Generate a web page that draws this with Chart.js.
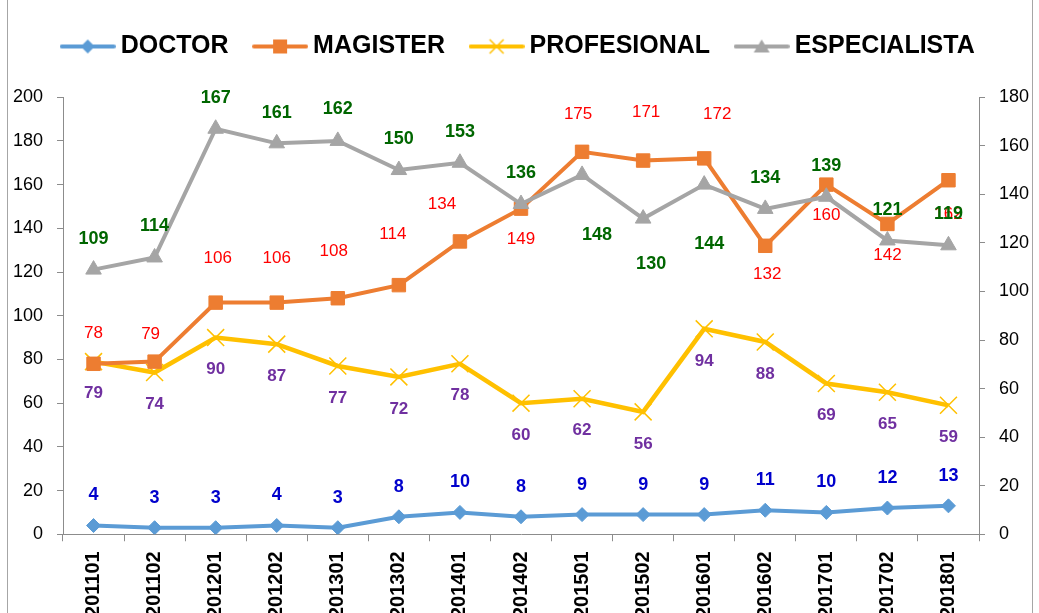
<!DOCTYPE html>
<html lang="es">
<head>
<meta charset="UTF-8">
<title>Docentes por grado</title>
<style>
  html, body { margin: 0; padding: 0; background: #fff; overflow: hidden; }
  #wrap { position: relative; width: 1039px; height: 613px; overflow: hidden; }
  canvas { display: block; }
</style>
</head>
<body>
<div id="wrap"><canvas id="chart" width="1039" height="630"></canvas></div>
<script src="https://cdn.jsdelivr.net/npm/chart.js"></script>
<script>
const periodos = ['201101', '201102', '201201', '201202', '201301', '201302', '201401', '201402',
                  '201501', '201502', '201601', '201602', '201701', '201702', '201801'];
const doctor       = [4, 3, 3, 4, 3, 8, 10, 8, 9, 9, 9, 11, 10, 12, 13];
const magister     = [78, 79, 106, 106, 108, 114, 134, 149, 175, 171, 172, 132, 160, 142, 162];
const profesional  = [79, 74, 90, 87, 77, 72, 78, 60, 62, 56, 94, 88, 69, 65, 59];
const especialista = [109, 114, 167, 161, 162, 150, 153, 136, 148, 130, 144, 134, 139, 121, 119];

const FONT = "'Liberation Sans', Arial, sans-serif";
const axisGray = '#8c8c8c';

// little line + marker picture for each legend entry
function legendIcon(color, marker) {
  const c = document.createElement('canvas');
  c.width = 56; c.height = 24;
  const g = c.getContext('2d');
  g.strokeStyle = color;
  g.fillStyle = color;
  g.lineWidth = 4;
  g.lineCap = 'round';
  g.beginPath(); g.moveTo(2, 12); g.lineTo(54, 12); g.stroke();
  g.beginPath();
  if (marker === 'diamond') {
    g.moveTo(28, 5); g.lineTo(35, 12); g.lineTo(28, 19); g.lineTo(21, 12); g.closePath(); g.fill();
  } else if (marker === 'square') {
    g.fillRect(21, 5, 14, 14);
  } else if (marker === 'x') {
    g.lineWidth = 1.5; g.lineCap = 'butt';
    g.moveTo(21, 5); g.lineTo(35, 19); g.moveTo(35, 5); g.lineTo(21, 19); g.stroke();
  } else if (marker === 'triangle') {
    g.moveTo(28, 5); g.lineTo(36, 18); g.lineTo(20, 18); g.closePath(); g.fill();
  }
  return c;
}

const icons = [
  legendIcon('#5B9BD5', 'diamond'),
  legendIcon('#ED7D31', 'square'),
  legendIcon('#FFC000', 'x'),
  legendIcon('#A5A5A5', 'triangle')
];

// value labels next to the points
const valueLabels = {
  id: 'valueLabels',
  afterDatasetsDraw(chart) {
    const ctx = chart.ctx;
    chart.data.datasets.forEach((ds, i) => {
      const meta = chart.getDatasetMeta(i);
      ctx.save();
      ctx.font = ds.labelFont;
      ctx.fillStyle = ds.labelColor;
      ctx.textAlign = 'center';
      ctx.textBaseline = 'middle';
      meta.data.forEach((pt, j) => {
        const dy = Array.isArray(ds.labelDy) ? ds.labelDy[j] : ds.labelDy;
        const dx = ds.labelDx ? ds.labelDx[j] : 0;
        ctx.fillText(String(ds.data[j]), pt.x + dx, pt.y + dy);
      });
      ctx.restore();
    });
  }
};

// thin frame lines of the chart area
const frame = {
  id: 'frame',
  beforeDraw(chart) {
    const ctx = chart.ctx;
    ctx.save();
    ctx.strokeStyle = '#a6a6a6';
    ctx.lineWidth = 1;
    ctx.beginPath();
    ctx.moveTo(7.5, 0); ctx.lineTo(7.5, chart.height);
    ctx.moveTo(1032.5, 0); ctx.lineTo(1032.5, chart.height);
    ctx.stroke();
    ctx.restore();
  }
};

const fixWidth = axis => { axis.width = 50; };

Chart.defaults.font.family = FONT;

new Chart(document.getElementById('chart'), {
  type: 'line',
  data: {
    labels: periodos,
    datasets: [
      {
        label: 'DOCTOR',
        data: doctor,
        yAxisID: 'y',
        borderColor: '#5B9BD5',
        backgroundColor: '#5B9BD5',
        borderWidth: 4,
        pointStyle: 'rectRot',
        pointRadius: 7,
        pointBorderWidth: 1,
        labelFont: 'bold 18px ' + FONT,
        labelColor: '#0000CC',
        labelDy: -30
      },
      {
        label: 'MAGISTER',
        data: magister,
        yAxisID: 'y',
        borderColor: '#ED7D31',
        backgroundColor: '#ED7D31',
        borderWidth: 4,
        pointStyle: 'rect',
        pointRadius: 9.5,
        pointBorderWidth: 1,
        labelFont: '17px ' + FONT,
        labelColor: '#FF0000',
        labelDy: [-30, -27, -44, -44, -47, -51, -37, 31, -38, -48, -44, 29, 31, 31, 34],
        labelDx: [0, -4, 2, 0, -4, -6, -18, 0, -4, 3, 13, 2, 0, 0, 0]
      },
      {
        label: 'PROFESIONAL',
        data: profesional,
        yAxisID: 'y',
        borderColor: '#FFC000',
        backgroundColor: '#FFC000',
        borderWidth: 4.5,
        pointStyle: 'crossRot',
        pointRadius: 12,
        pointBorderWidth: 1.5,
        labelFont: 'bold 17px ' + FONT,
        labelColor: '#7030A0',
        labelDy: 32
      },
      {
        label: 'ESPECIALISTA',
        data: especialista,
        yAxisID: 'y1',
        borderColor: '#A5A5A5',
        backgroundColor: '#A5A5A5',
        borderWidth: 4,
        pointStyle: 'triangle',
        pointRadius: 9,
        pointBorderWidth: 1,
        labelFont: 'bold 18px ' + FONT,
        labelColor: '#006600',
        labelDy: [-31, -31, -31, -30, -32, -31, -31, -31, 60, 45, 59, -31, -31, -30, -31],
        labelDx: [0, 0, 0, 0, 0, 0, 0, 0, 15, 8, 5, 0, 0, 0, 0],
        order: -1
      }
    ]
  },
  options: {
    responsive: false,
    animation: false,
    layout: { padding: { top: 3, left: 13, right: 10, bottom: 2 } },
    plugins: {
      tooltip: { enabled: false },
      title: { display: true, text: '', font: { size: 1 }, padding: { top: 0, bottom: 27 }, weight: 500 },
      legend: {
        position: 'top',
        labels: {
          usePointStyle: true,
          pointStyleWidth: 41,
          padding: 31,
          color: '#000',
          font: { size: 25, weight: 'bold', family: FONT },
          generateLabels: chart => chart.data.datasets.map((ds, i) => ({
            text: ds.label,
            pointStyle: icons[i],
            fillStyle: ds.borderColor,
            strokeStyle: ds.borderColor,
            lineWidth: 0,
            hidden: false,
            fontColor: '#000',
            datasetIndex: i
          }))
        }
      }
    },
    scales: {
      x: {
        offset: true,
        grid: { offset: true, drawOnChartArea: false, tickLength: 7, color: axisGray },
        border: { color: axisGray },
        ticks: {
          autoSkip: false, minRotation: 90, maxRotation: 90, padding: 10,
          color: '#000', font: { size: 20, weight: 'bold' }
        }
      },
      y: {
        position: 'left',
        min: 0, max: 200,
        afterFit: fixWidth,
        grid: { drawOnChartArea: false, tickLength: 6, color: axisGray },
        border: { color: axisGray },
        ticks: { stepSize: 20, padding: 14, color: '#000', font: { size: 18 } }
      },
      y1: {
        position: 'right',
        min: 0, max: 180,
        afterFit: fixWidth,
        grid: { drawOnChartArea: false, tickLength: 6, color: axisGray },
        border: { color: axisGray },
        ticks: { stepSize: 20, padding: 14, color: '#000', font: { size: 18 } }
      }
    }
  },
  plugins: [frame, valueLabels]
});
</script>
</body>
</html>
